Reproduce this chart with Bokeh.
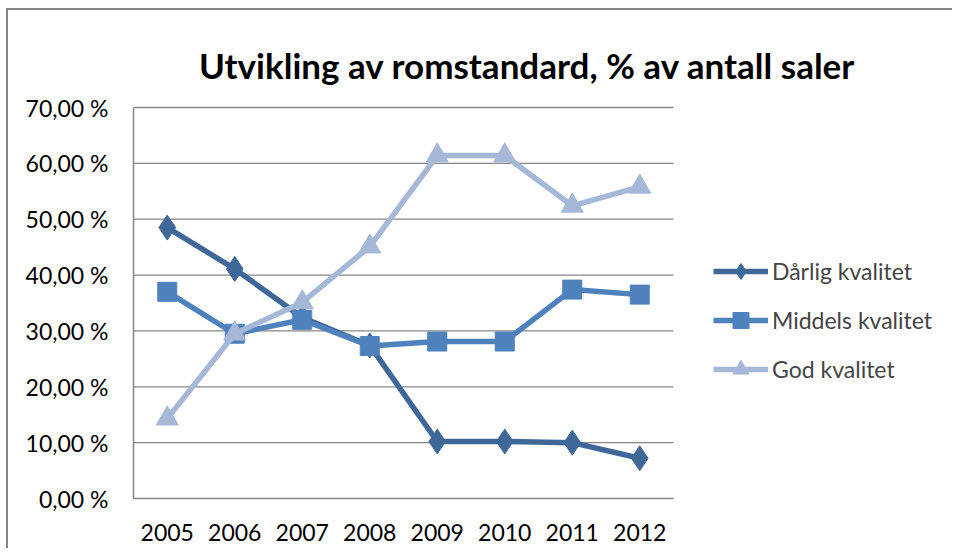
from bokeh.plotting import figure
from bokeh.models import Legend, LegendItem, Label, FixedTicker, CustomJSTickFormatter, Range1d
from bokeh.embed import file_html
from bokeh.resources import INLINE

years = ["2005", "2006", "2007", "2008", "2009", "2010", "2011", "2012"]
darlig = [48.5, 41.1, 32.4, 27.4, 10.2, 10.2, 10.0, 7.2]
middels = [37.0, 29.5, 32.0, 27.3, 28.1, 28.1, 37.4, 36.5]
god = [14.3, 29.5, 35.1, 45.1, 61.4, 61.4, 52.4, 55.8]
series_names = ["Dårlig kvalitet", "Middels kvalitet", "God kvalitet"]
y_ticks = [0, 10, 20, 30, 40, 50, 60, 70]
title_text = "Utvikling av romstandard, % av antall saler"

FONT = "Lato"
W, H = 952, 548
# plot area (pixels): left 133, right 673, top 107, bottom 498
PL, PR, PT, PB = 133, 673, 107, 498
FT = 8  # frame extends up to the top so that title/legend are inside it

xs = list(range(len(years)))
ymax = y_ticks[-1]
cat_px = (PR - PL) / len(years)
x_end = -0.5 + (W - PL) / cat_px
y_end = ymax * (PB - FT) / (PB - PT)

p = figure(width=W, height=H, x_range=Range1d(-0.5, x_end), y_range=Range1d(0, y_end),
           output_backend="svg", toolbar_location=None,
           min_border_left=PL, min_border_top=FT, min_border_right=0,
           min_border_bottom=H - PB)
p.title = None
p.outline_line_color = None
p.background_fill_color = None
p.border_fill_color = None
p.styles = {
    "background-color": "white",
    "background-image": "linear-gradient(#868686,#868686), linear-gradient(#868686,#868686)",
    "background-position": "6px 8px, 6px 8px",
    "background-size": "2px 600px, 1000px 2px",
    "background-repeat": "no-repeat",
}

p.xgrid.grid_line_color = None
p.ygrid.grid_line_color = None
# horizontal gridlines limited to the plot area
p.segment(x0=[-0.5] * (len(y_ticks) - 1), x1=[len(years) - 0.5] * (len(y_ticks) - 1),
          y0=y_ticks[1:], y1=y_ticks[1:], line_color="#868686", line_width=1.3)

p.yaxis.ticker = FixedTicker(ticks=y_ticks)
p.yaxis.formatter = CustomJSTickFormatter(code="return tick.toFixed(2).replace('.', ',') + ' %';")
p.yaxis.bounds = (0, ymax)
p.xaxis.ticker = FixedTicker(ticks=xs)
p.xaxis.major_label_overrides = {i: y for i, y in zip(xs, years)}
p.xaxis.bounds = (-0.5, len(years) - 0.5)
for ax in (p.xaxis, p.yaxis):
    ax.axis_line_color = "#868686"
    ax.axis_line_width = 1.5
    ax.major_tick_line_color = None
    ax.minor_tick_line_color = None
    ax.major_tick_out = 0
    ax.major_tick_in = 0
    ax.major_label_text_font = FONT
    ax.major_label_text_font_size = "23px"
    ax.major_label_text_color = "black"
p.yaxis.major_label_standoff = 25
p.xaxis.major_label_standoff = 25

colors = ["#3F6899", "#4F81BD", "#A6B8D8"]
data = [darlig, middels, god]
markers = ["diamond", "square", "triangle"]
sizes = [25, 19, 22]
items = []
for name, ys, c, m, s in zip(series_names, data, colors, markers, sizes):
    r1 = p.line(xs, ys, line_color=c, line_width=5.5)
    r2 = p.scatter(xs, ys, marker=m, size=s, fill_color=c, line_color=c)
    items.append(LegendItem(label=name, renderers=[r1, r2]))

legend = Legend(items=items, location=(580, 109), orientation="vertical",
                padding=0, margin=0, spacing=9, glyph_width=55, glyph_height=40,
                label_height=40, label_standoff=4,
                label_text_font=FONT, label_text_font_size="23px",
                border_line_color=None, background_fill_alpha=0)
p.add_layout(legend, "center")

title = Label(x=394, y=434, x_units="screen", y_units="screen", text=title_text,
              text_align="center", text_baseline="alphabetic",
              text_font=FONT, text_font_size="35px", text_font_style="bold",
              text_color="black")
p.add_layout(title)

open("out.html", "w").write(file_html(p, INLINE))
